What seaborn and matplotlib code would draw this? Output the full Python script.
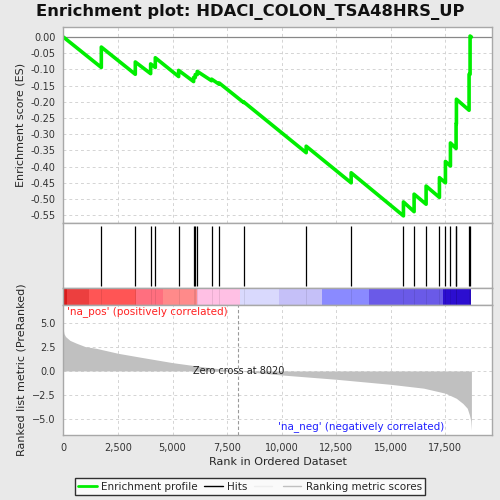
import numpy as np
import pandas as pd
import matplotlib
matplotlib.use("Agg")
import matplotlib.pyplot as plt
from matplotlib.lines import Line2D
import seaborn as sns

# hits (rank of each gene of the set in the ordered list)
hit_ranks = [1739, 3296, 3998, 4212, 5280, 5966, 6042, 6134, 6790, 7141, 8255,
             11123, 13183, 15578, 16066, 16616, 17226, 17501, 17730, 17989, 18004,
             18584, 18630]
# running ES just before and just after each hit
es_before = [-0.094, -0.115, -0.113, -0.094, -0.122, -0.1375, -0.125, -0.116, -0.135, -0.146, -0.202,
             -0.357, -0.450, -0.552, -0.539, -0.516, -0.495, -0.450, -0.398, -0.344, -0.268,
             -0.226, -0.115]
es_after = [-0.031, -0.077, -0.083, -0.064, -0.103, -0.125, -0.116, -0.106, -0.130, -0.142, -0.200,
            -0.337, -0.419, -0.509, -0.485, -0.460, -0.434, -0.384, -0.327, -0.268, -0.192,
            -0.115, 0.003]
n_genes = 18691

# ranked list metric, read at a few ranks
metric_rank = [0, 30, 100, 300, 600, 1000, 1500, 2500, 3500, 5000, 6500, 8020,
               10000, 12500, 15000, 16500, 17500, 18000, 18300, 18500, 18600, 18660, 18691]
metric_val = [4.3, 3.9, 3.6, 3.2, 2.9, 2.55, 2.37, 1.85, 1.45, 0.87, 0.4, 0.0,
              -0.42, -0.87, -1.4, -1.8, -2.33, -2.86, -3.4, -3.9, -4.6, -5.2, -6.2]
zero_cross = 8020

# colour bar blocks
bar_edges = [0, 150, 1190, 3330, 4580, 6140, 8090, 9890, 11870, 14000, 17390, 18691]
bar_colors = ['#d81c1c', '#ec3f3f', '#ff5555', '#ff6f7f', '#ff8a8a', '#ffc0e4',
              '#d9d9fd', '#c5c0f8', '#8a8aff', '#6a5ae8', '#2c0ed0']

es_x = [0]
es_y = [0.0]
for r, b, a in zip(hit_ranks, es_before, es_after):
    es_x += [r, r]
    es_y += [b, a]
es_x.append(n_genes)
es_y.append(0.0)
es_df = pd.DataFrame({'rank': es_x, 'es': es_y})

sns.set_style("white")
plt.rcParams['font.family'] = ['DejaVu Sans']
bg = '#e9e9e9'
frame = '#a8a8a8'
xmax = 19634

fig = plt.figure(figsize=(5, 5), dpi=100, facecolor=bg)
L, W = 0.1267, 0.8573
ax1 = fig.add_axes([L, 0.554, W, 0.3914])
ax2 = fig.add_axes([L, 0.4234, W, 0.1306])
ax3 = fig.add_axes([L, 0.39, W, 0.0334])
ax4 = fig.add_axes([L, 0.13, W, 0.26])

grid_kw = dict(color='#d4d4d4', linestyle=(0, (3, 3)), linewidth=0.7)
xt = np.arange(0, 17501, 2500)

for ax in (ax1, ax2, ax3, ax4):
    ax.set_xlim(0, xmax)
    ax.set_facecolor('white')
    for s in ax.spines.values():
        s.set_color(frame)
        s.set_linewidth(1.0)
    ax.tick_params(colors='#333333', labelsize=7, length=2, width=0.6)

# enrichment profile
ax1.set_xticks(xt)
ax1.set_yticks(np.arange(-0.55, 0.001, 0.05))
ax1.set_yticklabels(['%.2f' % v for v in np.arange(-0.55, 0.001, 0.05)])
ax1.grid(True, **grid_kw)
ax1.axhline(0, color='#888888', lw=0.9)
sns.lineplot(data=es_df, x='rank', y='es', ax=ax1, estimator=None, sort=False,
             color='#00ee00', lw=2.6)
ax1.set_ylim(-0.574, 0.03)
ax1.set_xlim(0, xmax)
ax1.tick_params(axis='x', labelbottom=False, length=0)
ax1.set_xlabel('')
ax1.set_ylabel('Enrichment score (ES)', fontsize=8)
fig.suptitle('Enrichment plot: HDACI_COLON_TSA48HRS_UP', x=0.5, y=0.993,
             fontsize=11.8, fontweight='bold', color='#111111')

# hits
ax2.vlines(hit_ranks, 0.04, 0.955, color='black', lw=0.9)
ax2.set_ylim(0, 1)
ax2.set_xticks([])
ax2.set_yticks([])

# colour bar
for i, c in enumerate(bar_colors):
    ax3.axvspan(bar_edges[i], bar_edges[i + 1], color=c, lw=0)
ax3.vlines(hit_ranks, 0, 1, color='black', lw=0.5, alpha=0.12)
ax3.set_ylim(0, 1)
ax3.set_xticks([])
ax3.set_yticks([])

# ranked list metric
ax4.set_xticks(xt)
ax4.set_xticklabels(['{:,}'.format(v) for v in xt])
ax4.set_yticks([5.0, 2.5, 0.0, -2.5, -5.0])
ax4.set_yticklabels(['5.0', '2.5', '0.0', '\u22122.5', '\u22125.0'])
ax4.grid(True, **grid_kw)
ax4.fill_between(metric_rank, metric_val, 0, color='#c0c0c0', lw=0)
ax4.axvline(zero_cross, color='#999999', lw=0.8, linestyle=(0, (3, 2)))
ax4.set_ylim(-6.7, 6.9)
ax4.set_xlim(0, xmax)
ax4.text(zero_cross, 0, 'Zero cross at %d' % zero_cross, ha='center', va='center',
         fontsize=7, color='#222222')
ax4.text(150, 6.2, "'na_pos' (positively correlated)", color='#ff2020',
         fontsize=7.5, va='center', ha='left')
ax4.text(9840, -5.8, "'na_neg' (negatively correlated)", color='#2020ff',
         fontsize=7.5, va='center', ha='left')
ax4.set_xlabel('Rank in Ordered Dataset', fontsize=8, labelpad=3)
ax4.set_ylabel('Ranked list metric (PreRanked)', fontsize=8)

handles = [Line2D([], [], color='#00ee00', lw=2),
           Line2D([], [], color='black', lw=1),
           Line2D([], [], color='#eeeeee', lw=1),
           Line2D([], [], color='#c0c0c0', lw=1)]
labels = ['Enrichment profile', 'Hits', '', 'Ranking metric scores']
leg = fig.legend(handles, labels, loc='center', bbox_to_anchor=(0.5, 0.027), ncol=4,
                 fontsize=7.5, frameon=True, fancybox=False, edgecolor='black',
                 facecolor='white', handlelength=1.8, columnspacing=0.6,
                 handletextpad=0.4, borderpad=0.35)
leg.get_frame().set_linewidth(1.0)

fig.savefig('out.png', dpi=100, facecolor=bg)
